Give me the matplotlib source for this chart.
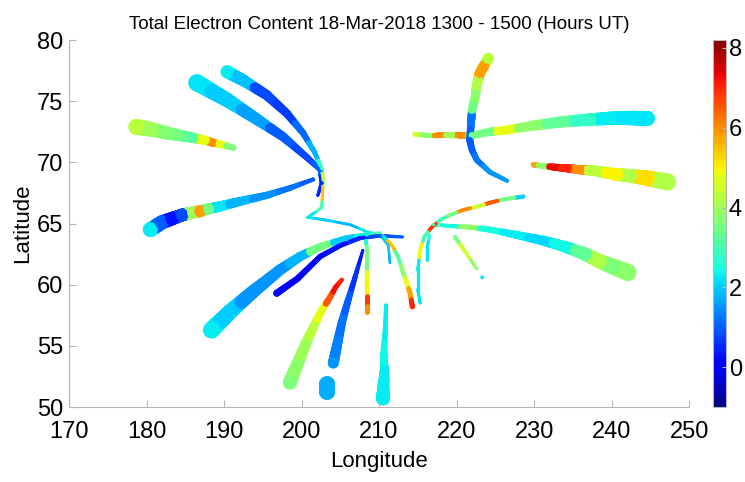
import numpy as np
import matplotlib
matplotlib.use('Agg')
import matplotlib.pyplot as plt
from matplotlib.collections import LineCollection
from matplotlib import colors

plt.rcParams['font.family'] = ['Liberation Sans', 'DejaVu Sans']

# satellite tracks: (longitude, latitude, TEC)
track_a = [(190.4, 77.4, 2.3), (192.5, 76.7, 1.9), (195.5, 75.5, 0.8), (198.1, 74.0, 0.7),
           (200.2, 72.4, 1.1), (201.7, 70.8, 1.8), (202.6, 69.5, 2.8), (202.8, 68.6, 4.5)]
track_zig = [(202.8, 68.6, 4.0), (202.7, 67.3, 5.5), (202.6, 66.3, 3.0), (200.8, 65.5, 2.2),
             (203.0, 65.3, 2.0), (206.3, 64.9, 1.8), (208.5, 64.3, 2.2), (210.1, 64.1, 2.0),
             (211.2, 63.2, 2.0), (211.4, 61.8, 1.8)]
track_b = [(186.5, 76.5, 2.2), (190.4, 75.1, 2.0), (194.3, 73.5, 1.6), (197.6, 72.1, 1.0),
           (200.7, 70.4, 0.8), (202.4, 69.4, 1.0), (202.6, 68.3, 0.5), (202.1, 67.3, 0.5)]
track_c = [(178.7, 72.9, 4.3), (180.6, 72.7, 4.0), (182.6, 72.4, 3.7), (184.3, 72.2, 3.5),
           (186.0, 72.0, 3.2), (187.6, 71.8, 4.8), (188.6, 71.6, 6.0), (189.4, 71.5, 4.8),
           (191.2, 71.2, 3.6)]
track_d = [(180.5, 64.5, 2.3), (182.0, 65.1, 1.0), (183.3, 65.4, 0.3), (184.6, 65.7, 0.8),
           (186.0, 65.9, 4.0), (186.9, 66.0, 5.8), (188.0, 66.2, 3.5), (189.5, 66.4, 2.2),
           (192.0, 66.8, 1.8), (195.5, 67.3, 1.5), (198.5, 67.9, 1.2), (201.5, 68.6, 1.0)]
track_e = [(214.6, 72.3, 4.5), (216.3, 72.2, 3.8), (217.9, 72.2, 6.0), (219.4, 72.2, 4.0),
           (220.7, 72.2, 6.0), (222.0, 72.2, 3.5), (224.3, 72.5, 3.5), (226.0, 72.6, 4.8),
           (229.9, 73.0, 3.8), (233.4, 73.3, 3.3), (237.2, 73.5, 2.8), (239.8, 73.6, 2.3),
           (242.4, 73.6, 2.2), (244.6, 73.6, 2.2)]
track_f = [(224.1, 78.5, 4.3), (223.0, 77.3, 5.8), (222.6, 76.3, 4.2), (222.4, 75.3, 3.8),
           (222.0, 74.3, 3.5), (221.9, 73.5, 1.2), (221.7, 71.8, 1.0), (222.0, 71.0, 1.0),
           (222.6, 70.2, 1.2), (224.3, 69.2, 1.5), (226.5, 68.5, 1.5)]
track_g = [(229.9, 69.8, 5.8), (231.2, 69.7, 3.8), (232.7, 69.6, 7.3), (234.4, 69.5, 7.0),
           (235.9, 69.4, 6.0), (237.9, 69.3, 4.3), (240.7, 69.0, 5.0), (242.4, 68.9, 4.2),
           (244.6, 68.7, 5.2), (247.2, 68.4, 4.2)]
track_h = [(228.6, 67.2, 2.0), (226.3, 67.0, 3.5), (224.3, 66.7, 6.5), (222.8, 66.4, 4.5),
           (220.8, 66.1, 6.0), (219.2, 65.7, 3.5), (217.9, 65.3, 3.0), (216.8, 64.7, 6.8),
           (215.8, 63.9, 3.0), (215.3, 62.8, 5.0), (215.0, 61.2, 2.3), (215.0, 59.6, 2.2),
           (215.3, 58.5, 2.2)]
track_i = [(217.0, 64.9, 3.0), (219.2, 64.8, 2.5), (221.7, 64.7, 3.8), (224.3, 64.5, 2.5),
           (227.5, 64.1, 2.3), (231.2, 63.6, 2.1), (234.0, 63.1, 2.4), (236.6, 62.5, 3.3),
           (238.5, 61.9, 4.2), (240.1, 61.5, 3.6), (242.1, 61.0, 3.8)]
track_j = [(216.5, 64.0, 2.5), (216.2, 63.0, 2.2), (216.2, 62.0, 2.2)]
track_k = [(219.8, 63.9, 3.5), (221.1, 62.7, 4.5), (222.6, 61.3, 3.8)]
track_dot = [(223.3, 60.6, 2.3)]
track_l = [(188.4, 56.3, 2.3), (190.8, 57.8, 2.0), (193.7, 59.4, 1.5), (197.2, 61.2, 1.5),
           (199.8, 62.3, 1.8), (202.4, 63.1, 3.5), (205.8, 63.8, 2.0), (208.4, 64.1, 2.5),
           (210.1, 64.2, 3.0)]
track_m = [(196.8, 59.3, 0.2), (199.5, 60.5, 0.0), (202.4, 62.3, 0.2), (205.0, 63.2, 0.3),
           (207.5, 63.8, 0.5), (210.1, 64.0, 0.8), (213.0, 63.9, 1.0)]
track_n = [(198.5, 52.0, 3.6), (199.4, 53.4, 3.8), (200.5, 55.1, 4.0), (201.5, 56.5, 4.3),
           (202.6, 57.9, 4.8), (203.7, 59.0, 6.5), (204.4, 59.8, 7.2), (205.2, 60.4, 7.0)]
track_o = [(204.1, 53.6, 1.5), (204.6, 55.1, 1.3), (205.2, 56.9, 1.2), (206.0, 58.7, 1.0),
           (206.9, 60.6, 0.6), (207.9, 62.8, 0.4)]
track_blob = [(203.3, 51.85, 1.7), (203.3, 51.25, 1.7)]
track_p = [(210.9, 58.3, 2.3), (210.8, 56.3, 2.3), (210.6, 54.2, 2.4), (210.6, 52.2, 2.3),
           (210.5, 50.7, 2.3)]
track_q = [(208.3, 63.6, 2.5), (208.5, 62.7, 3.5), (208.5, 61.6, 3.5), (208.5, 60.4, 4.8),
           (208.5, 59.4, 5.0), (208.5, 58.7, 6.8), (208.5, 57.8, 6.0)]
track_r = [(210.5, 64.0, 2.2), (211.7, 63.2, 5.5), (212.5, 62.2, 3.2), (213.1, 61.0, 3.8),
           (213.6, 60.1, 4.8), (214.0, 59.3, 5.8), (214.3, 58.2, 7.0)]

# drawing widths in pixels: (start, end, taper exponent)
track_style = [
    (track_b, 17, 3, 1.0), (track_a, 13, 3, 1.0), (track_zig, 3, 2.5, 1.0),
    (track_c, 16, 6, 1.0), (track_d, 15, 4, 1.0), (track_e, 4.5, 15, 1.0),
    (track_f, 11, 4, 1.0), (track_g, 5, 17, 1.0), (track_i, 3.5, 17, 1.3),
    (track_h, 4, 3, 1.0), (track_j, 3, 3, 1.0), (track_k, 4, 3, 1.0),
    (track_dot, 4, 4, 1.0), (track_l, 17, 3.5, 1.0), (track_m, 7, 3, 1.0),
    (track_n, 14, 4, 1.0), (track_o, 11, 3, 1.0), (track_blob, 16, 16, 1.0),
    (track_p, 4, 14, 1.8), (track_q, 3.5, 5, 1.0), (track_r, 3, 5, 1.0),
]

cmap = plt.get_cmap('jet')
norm = colors.Normalize(vmin=-1, vmax=8.2)
dpi = 100
pt = 72.0 / dpi
nsub = 12  # pieces per stroke between two read points, for a smooth taper

fig = plt.figure(figsize=(7.45, 4.82), dpi=dpi)
ax = fig.add_axes([0.0926, 0.1556, 0.8324, 0.7614])
ax.set_xlim(170, 250)
ax.set_ylim(50, 80)

for pts, w0, w1, q in track_style:
    lon = np.array([p[0] for p in pts])
    lat = np.array([p[1] for p in pts])
    tec = np.array([p[2] for p in pts])
    xy = ax.transData.transform(np.column_stack([lon, lat]))
    if len(pts) > 1:
        d = np.concatenate([[0], np.cumsum(np.hypot(*np.diff(xy, axis=0).T))])
        d = d / d[-1]
    else:
        d = np.zeros(1)

    def width(t):
        if w0 >= w1:
            return w1 + (w0 - w1) * (1 - t) ** q
        return w0 + (w1 - w0) * t ** q

    segs, lws, cols = [], [], []
    for k in range(len(pts) - 1):
        f = np.linspace(0, 1, nsub + 1)
        sx = lon[k] + (lon[k + 1] - lon[k]) * f
        sy = lat[k] + (lat[k + 1] - lat[k]) * f
        st = d[k] + (d[k + 1] - d[k]) * f
        for j in range(nsub):
            segs.append([(sx[j], sy[j]), (sx[j + 1], sy[j + 1])])
            lws.append(width((st[j] + st[j + 1]) / 2) * pt)
            cols.append(cmap(norm(tec[k] if j < nsub // 2 else tec[k + 1])))
    if segs:
        ax.add_collection(LineCollection(segs, colors=cols, linewidths=lws,
                                         capstyle='round', joinstyle='round'))
    ax.scatter(lon, lat, s=(width(d) * pt) ** 2, c=tec, cmap=cmap, norm=norm,
               edgecolors='none', zorder=3)

ax.set_xticks(range(170, 251, 10))
ax.set_yticks(range(50, 81, 5))
for side in ['top', 'right']:
    ax.spines[side].set_visible(False)
for side in ['left', 'bottom']:
    ax.spines[side].set_color('#b5b5b5')
ax.tick_params(axis='both', direction='in', length=5, color='#b5b5b5', labelsize=17)
ax.tick_params(axis='x', pad=10)
ax.tick_params(axis='y', pad=4)
ax.set_xlabel('Longitude', fontsize=16, labelpad=6)
ax.set_ylabel('Latitude', fontsize=16, labelpad=3)
ax.set_title('Total Electron Content 18-Mar-2018 1300 - 1500 (Hours UT)', fontsize=13.5, pad=8)

cax = fig.add_axes([0.957, 0.1556, 0.0175, 0.7614])
sm = plt.cm.ScalarMappable(norm=norm, cmap=cmap)
cb = fig.colorbar(sm, cax=cax, ticks=[0, 2, 4, 6, 8])
cb.outline.set_edgecolor('#b5b5b5')
cax.tick_params(direction='in', length=3, color='#b5b5b5', labelsize=17, pad=2)

fig.savefig('out.png', dpi=dpi)
